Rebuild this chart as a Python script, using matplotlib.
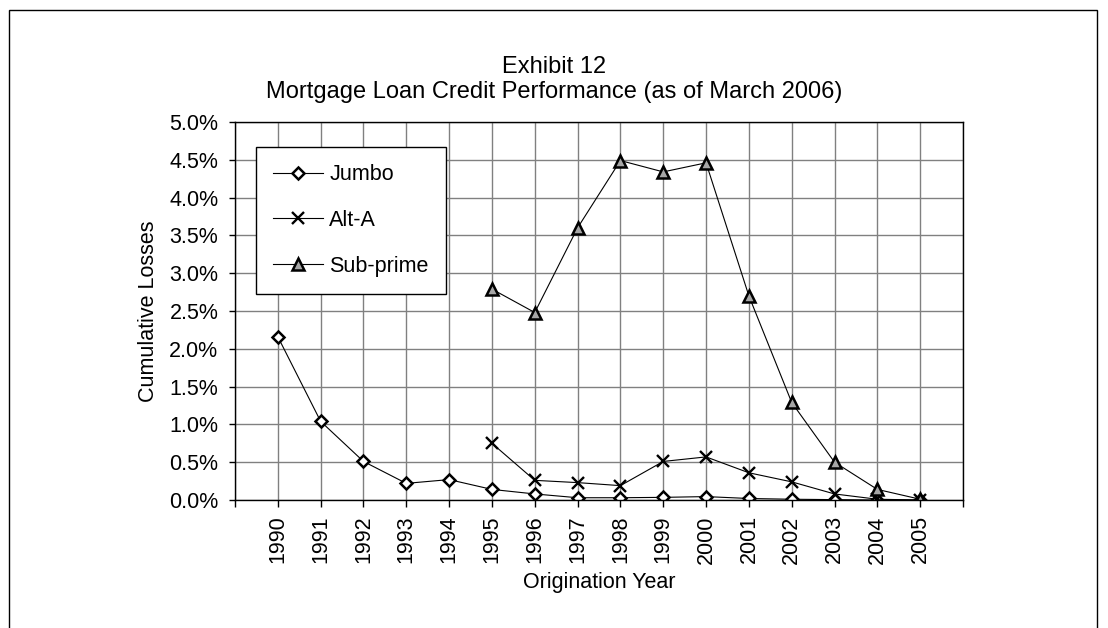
import matplotlib
matplotlib.use('Agg')
import matplotlib.pyplot as plt
from matplotlib.patches import Rectangle
from matplotlib.ticker import FuncFormatter, MultipleLocator

plt.rcParams['font.family'] = ['Liberation Sans', 'DejaVu Sans']

years = list(range(1990, 2006))
jumbo = [2.16, 1.04, 0.51, 0.22, 0.27, 0.14, 0.08, 0.03, 0.03, 0.035, 0.045,
         0.02, 0.01, 0.005, 0.0, 0.0]
alt_a_years = list(range(1995, 2006))
alt_a = [0.75, 0.26, 0.23, 0.19, 0.51, 0.57, 0.36, 0.24, 0.08, 0.01, 0.0]
sub_years = list(range(1995, 2006))
sub_prime = [2.79, 2.48, 3.60, 4.49, 4.34, 4.46, 2.70, 1.29, 0.50, 0.14, 0.01]

FS = 15.5
W, H = 1108, 628
fig = plt.figure(figsize=(W / 100, H / 100), dpi=100)
ax = fig.add_axes([235 / W, 1 - 500 / H, (963 - 235) / W, (500 - 122) / H])

# outer chart border
fig.patches.append(Rectangle((9 / W, -0.05), (1097 - 9) / W, 1 - 10 / H + 0.05,
                             transform=fig.transFigure, fill=False,
                             edgecolor='black', linewidth=1.0))

line_kw = dict(color='black', linewidth=0.8, markeredgecolor='black')
ax.plot(years, jumbo, marker='D', markersize=6.3, markerfacecolor='white',
        markeredgewidth=1.8, label='Jumbo', **line_kw)
ax.plot(alt_a_years, alt_a, marker='x', markersize=8, markeredgewidth=1.7,
        label='Alt-A', **line_kw)
ax.plot(sub_years, sub_prime, marker='^', markersize=8.5,
        markerfacecolor='#a6a6a6', markeredgewidth=1.8, label='Sub-prime',
        **line_kw)

ax.set_xlim(1989, 2006)
ax.set_ylim(0, 5.0)
ax.set_xticks(range(1989, 2007))
ax.set_xticklabels([''] + [str(y) for y in years] + [''], rotation=90,
                   fontsize=FS)
ax.yaxis.set_major_locator(MultipleLocator(0.5))
ax.yaxis.set_major_formatter(FuncFormatter(lambda v, p: f"{v:.1f}%"))
ax.tick_params(axis='y', labelsize=FS, direction='out', length=4, width=1,
               pad=8)
ax.tick_params(axis='x', direction='out', length=5, width=1, pad=6)
ax.grid(True, color='#808080', linewidth=1.0)
ax.set_axisbelow(True)
for s in ax.spines.values():
    s.set_linewidth(1.0)

ax.set_xlabel('Origination Year', fontsize=FS, labelpad=6)
ax.set_ylabel('Cumulative Losses', fontsize=FS, labelpad=7)

fig.text(0.5, 1 - 67 / H, 'Exhibit 12', ha='center', va='center',
         fontsize=17)
fig.text(0.5, 1 - 92 / H, 'Mortgage Loan Credit Performance (as of March 2006)',
         ha='center', va='center', fontsize=17)

leg = ax.legend(loc='upper left',
                bbox_to_anchor=((256 - 235) / 728, (500 - 147) / 378),
                fontsize=FS, frameon=True, fancybox=False, edgecolor='black',
                framealpha=1, labelspacing=1.15, handlelength=2.3,
                borderpad=0.8, borderaxespad=0, handletextpad=0.3)
leg.get_frame().set_linewidth(1.0)

fig.savefig('out.png', dpi=100)
